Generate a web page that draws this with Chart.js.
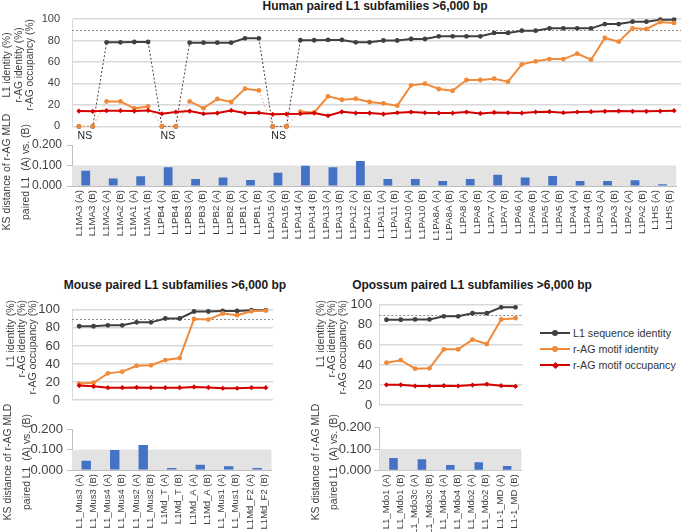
<!DOCTYPE html>
<html><head><meta charset="utf-8">
<script src="https://cdn.jsdelivr.net/npm/chart.js@4/dist/chart.umd.min.js"></script>
<style>
html,body{margin:0;padding:0;background:#fff;}
#wrap{position:relative;width:685px;height:532px;overflow:hidden;font-family:"Liberation Sans",Arial,sans-serif;}
canvas{position:absolute;}
.ttl{position:absolute;font-weight:bold;font-size:12px;line-height:12px;color:#1a1a1a;white-space:nowrap;transform:translateX(-50%);}
#legend{position:absolute;left:540px;top:325px;font-size:10.7px;color:#333;}
.li{position:relative;height:16px;line-height:16px;padding-left:33px;white-space:nowrap;}
.li .ln{position:absolute;left:0;top:7px;width:30px;height:2px;}
.li .mk{position:absolute;left:12px;top:5px;width:6px;height:6px;border-radius:50%;}
.li .mk.dia{border-radius:0;width:5px;height:5px;left:12.5px;top:5.5px;transform:rotate(45deg);}
</style></head><body>
<div id="wrap">
  <div class="ttl" id="tH" style="left:375px;top:0px"></div>
  <div class="ttl" id="tM" style="left:175px;top:279px"></div>
  <div class="ttl" id="tO" style="left:472px;top:279px"></div>
  <canvas id="hLine" width="685" height="145" style="left:0;top:0"></canvas>
  <canvas id="hBar" width="685" height="144" style="left:0;top:96px"></canvas>
  <canvas id="mLine" width="280" height="130" style="left:0;top:290px"></canvas>
  <canvas id="mBar" width="280" height="152" style="left:0;top:380px"></canvas>
  <canvas id="oLine" width="225" height="130" style="left:305px;top:290px"></canvas>
  <canvas id="oBar" width="225" height="152" style="left:305px;top:380px"></canvas>
  <div id="legend"></div>
</div>
<script>
// ---------------- DATA ----------------
const seriesNames = ['L1 sequence identity', 'r-AG motif identity', 'r-AG motif occupancy'];
const panelTitles = ['Human paired L1 subfamilies >6,000 bp', 'Mouse paired L1 subfamilies >6,000 bp', 'Opossum paired L1 subfamilies >6,000 bp'];
const lineYTitle = ['L1 identity (%)', 'r-AG identity (%)', 'r-AG occupancy (%)'];
const barYTitle = ['KS distance of r-AG MLD', 'paired L1  (A) vs. (B)'];
const pairSuffixes = [' (A)', ' (B)'];

// Human
const humanSubfamilies = ['L1MA3','L1MA2','L1MA1','L1PB4','L1PB3','L1PB2','L1PB1','L1PA15','L1PA14','L1PA13','L1PA12','L1PA11','L1PA10','L1PA8A','L1PA8','L1PA7','L1PA6','L1PA5','L1PA4','L1PA3','L1PA2','L1HS'];
const humanNS = ['L1MA3','L1PB4','L1PA15'];
const humanL1Identity = [0,0, 78.3,78.3, 78.6,78.6, 0,0, 78,78, 78,78, 82,82, 0,0, 80.2,80.2, 80.5,80.5, 78.3,78.3, 80,80, 81.4,81.4, 83.9,83.9, 83.9,83.9, 87,87, 89.1,89.1, 91.3,91.3, 91.3,91.3, 95.3,95.3, 97.5,97.5, 99.4,99.4];
const humanRagIdentity = [0,0, 23.3,23.3, 16.8,18.6, 0,0, 23.3,17, 25.5,22.7, 35.1,33.5, 0,0, 13.7,13, 28,24.8, 25.8,22.7, 21.4,19.3, 38.2,39.8, 34.8,33.2, 43.2,43.2, 44.4,41.6, 57.8,60.6, 62.7,62.7, 67.7,62.1, 82.3,78.9, 91.3,90.7, 97.2,96.3];
const humanRagOccupancy = [14.3,14, 14.6,14.6, 14.3,14.9, 11.8,13.4, 14.3,11.8, 12.4,14.9, 12.4,12.7, 11.2,11.5, 11.8,12.4, 9.9,13.6, 12.4,12.4, 11.5,12.7, 13.4,12.7, 12.4,12.4, 13.4,12.1, 13,12.7, 12.4,13.4, 13.7,12.7, 13.4,13.7, 14,14.3, 14,14, 14.3,14.6];
const humanKS = [0.075,0.037,0.047,0.091,0.034,0.041,0.029,0.065,0.099,0.091,0.122,0.034,0.034,0.024,0.034,0.055,0.041,0.049,0.024,0.024,0.028,0.008];

// Mouse
const mouseSubfamilies = ['L1_Mus3','L1_Mus4','L1_Mus2','L1Md_T','L1Md_A','L1_Mus1','L1Md_F2'];
const mouseL1Identity = [81.8,81.8, 82.8,82.8, 86.1,86.1, 90.4,90.4, 98.1,98.1, 98.7,98.7, 99.6,99.6];
const mouseRagIdentity = [18.4,19.3, 29.7,31.6, 38,38.6, 44.4,46.6, 89.8,89.2, 95.9,94.1, 98.4,99.1];
const mouseRagOccupancy = [16.2,15.3, 13.8,13.8, 14.1,13.8, 13.8,13.8, 14.7,14.1, 13.2,13.2, 13.8,13.8];
const mouseKS = [0.046,0.098,0.123,0.010,0.026,0.018,0.010];

// Opossum
const opossumSubfamilies = ['L1_Mdo1','L1_Mdo3c','L1_Mdo4','L1_Mdo2','L1-1_MD'];
const opossumL1Identity = [85.1,85.1, 85.4,85.4, 88.5,88.5, 91.6,91.6, 97.5,97.5];
const opossumRagIdentity = [42.3,44.8, 36.4,36.7, 55.7,55.7, 65.3,60.9, 85.4,86.7];
const opossumRagOccupancy = [20.3,20.3, 19.1,19.1, 19.4,19.1, 20,20.9, 19.4,18.8];
const opossumKS = [0.058,0.052,0.025,0.0375,0.020];

const identityThreshold = 90;
const ksBand = [0, 0.1];
const lineTicks = [0, 100, 20];
const barTicks = [0, 0.2, 0.1];

// ---------------- STYLE ----------------
const FONT = '"Liberation Sans", Arial, sans-serif';
Chart.defaults.font.family = FONT;
const COLORS = ['#404040', '#EF8A3A', '#D40000'];
const DOT_COLORS = ['#404040', '#F4B183', '#D40000'];
const PSTYLE = ['circle', 'circle', 'rectRot'];
const TXT = '#404040';

const pairLabels = s => s.flatMap(n => pairSuffixes.map(x => n + x));

const refLine = {
  id: 'refLine',
  beforeDatasetsDraw(chart, args, o) {
    if (o == null || o.value == null) return;
    const {ctx, chartArea: a, scales: {y}} = chart;
    const yy = Math.round(y.getPixelForValue(o.value)) + 0.5;
    ctx.save(); ctx.strokeStyle = '#8c8c8c'; ctx.lineWidth = 1; ctx.setLineDash([2, 2]);
    ctx.beginPath(); ctx.moveTo(a.left, yy); ctx.lineTo(a.right, yy); ctx.stroke(); ctx.restore();
  }
};
const nsMarks = {
  id: 'nsMarks',
  afterDraw(chart, args, o) {
    if (!o || !o.names) return;
    const {ctx, chartArea: a, scales: {x}} = chart;
    const labels = chart.data.labels;
    ctx.save(); ctx.fillStyle = '#1a1a1a'; ctx.font = o.size + 'px ' + FONT;
    ctx.textAlign = 'center'; ctx.textBaseline = 'middle';
    o.names.forEach(n => {
      const i = labels.indexOf(n + pairSuffixes[0]);
      const xx = (x.getPixelForValue(i) + x.getPixelForValue(i + 1)) / 2;
      ctx.fillText('NS', xx - 1, a.bottom + o.dy);
    });
    ctx.restore();
  }
};
const band = {
  id: 'band',
  beforeDatasetsDraw(chart, args, o) {
    if (!o || o.to == null) return;
    const {ctx, chartArea: a, scales: {y}} = chart;
    const y1 = y.getPixelForValue(o.to), y0 = y.getPixelForValue(o.from);
    ctx.save(); ctx.fillStyle = o.color; ctx.fillRect(a.left, y1, a.right - a.left, y0 - y1); ctx.restore();
  }
};
// rotated multi-line axis title (reads bottom-to-top)
const sideTitle = {
  id: 'sideTitle',
  afterDraw(chart, args, o) {
    if (!o || !o.lines) return;
    const ctx = chart.ctx;
    ctx.save(); ctx.fillStyle = TXT; ctx.font = o.size + 'px ' + FONT; ctx.textBaseline = 'middle';
    ctx.textAlign = o.align === 'end' ? 'right' : 'center';
    o.lines.forEach((t, i) => {
      ctx.save(); ctx.translate(o.x + i * o.dx, o.y); ctx.rotate(-Math.PI / 2); ctx.fillText(t, 0, 0); ctx.restore();
    });
    ctx.restore();
  }
};

function ds(i, data) {
  const zeroSeg = ctx => (ctx.p0.parsed.y === 0 || ctx.p1.parsed.y === 0);
  return {
    label: seriesNames[i], data,
    borderColor: COLORS[i], backgroundColor: COLORS[i], borderWidth: 2,
    pointStyle: PSTYLE[i], pointRadius: i === 2 ? 2.6 : 2.4, pointBorderWidth: 0,
    pointBackgroundColor: COLORS[i], tension: 0, order: [2, 1, 0][i],
    segment: {
      borderDash: ctx => zeroSeg(ctx) ? [2, 2] : undefined,
      borderWidth: ctx => zeroSeg(ctx) ? 1 : undefined,
      borderColor: ctx => zeroSeg(ctx) ? DOT_COLORS[i] : undefined
    }
  };
}

function lineChart(id, subfams, l1, ri, ro, o) {
  return new Chart(document.getElementById(id), {
    type: 'line',
    data: {labels: pairLabels(subfams), datasets: [ds(0, l1), ds(1, ri), ds(2, ro)]},
    options: {
      responsive: false, animation: false, clip: false,
      layout: {padding: {top: o.top, bottom: o.bottom, right: o.right, left: 0}},
      plugins: {legend: {display: false}, tooltip: {enabled: false},
        refLine: {value: identityThreshold}, nsMarks: o.ns ? {names: o.ns, size: 10.5, dy: 10} : {},
        sideTitle: Object.assign({lines: lineYTitle, size: o.tfont}, o.title)},
      scales: {
        x: {type: 'category', offset: true, display: false},
        y: {min: lineTicks[0], max: lineTicks[1],
          ticks: {stepSize: lineTicks[2], font: {size: o.tick}, color: TXT, padding: o.tickPad},
          grid: {color: '#d9d9d9', lineWidth: 1.5, drawTicks: false},
          border: {display: true, color: '#d9d9d9', width: 1},
          afterFit(s) { s.width = o.axisW; }
        }
      }
    },
    plugins: [refLine, nsMarks, sideTitle]
  });
}

function barChart(id, subfams, ks, o) {
  return new Chart(document.getElementById(id), {
    type: 'bar',
    data: {labels: subfams, datasets: [{data: ks, backgroundColor: '#4472C4', xAxisID: 'xPair', barPercentage: o.barPct, categoryPercentage: 1}]},
    options: {
      responsive: false, animation: false,
      layout: {padding: {top: o.top, bottom: 0, right: o.right, left: 0}},
      plugins: {legend: {display: false}, tooltip: {enabled: false},
        band: {from: ksBand[0], to: ksBand[1], color: '#e3e3e3'},
        sideTitle: Object.assign({lines: barYTitle, size: o.tfont}, o.title)},
      scales: {
        x: {type: 'category', labels: pairLabels(subfams), offset: true, position: 'bottom',
          grid: {display: false, drawTicks: false}, border: {display: true, color: '#bfbfbf', width: 1},
          ticks: {autoSkip: false, maxRotation: 90, minRotation: 90, font: {size: o.lab}, color: TXT, padding: 4},
          afterFit(s) { s.height = o.xH; }},
        xPair: {type: 'category', offset: true, display: false, position: 'bottom'},
        y: {min: barTicks[0], max: barTicks[1],
          ticks: {stepSize: barTicks[2], callback: v => Number(v).toFixed(3), font: {size: o.tick}, color: TXT, padding: o.tickPad},
          grid: {drawOnChartArea: false, drawTicks: true, tickLength: 5, color: '#bfbfbf'},
          border: {display: true, color: '#bfbfbf', width: 1},
          afterFit(s) { s.width = o.axisW; }
        }
      }
    },
    plugins: [band, sideTitle]
  });
}

// titles
document.getElementById('tH').textContent = panelTitles[0];
document.getElementById('tM').textContent = panelTitles[1];
document.getElementById('tO').textContent = panelTitles[2];

lineChart('hLine', humanSubfamilies, humanL1Identity, humanRagIdentity, humanRagOccupancy,
  {top: 19, bottom: 18, right: 1, axisW: 72, tick: 11, tickPad: 12, tfont: 10.2, ns: humanNS,
   title: {x: 7.5, dx: 11.5, y: 65, align: 'center'}});
barChart('hBar', humanSubfamilies, humanKS,
  {top: 49, right: 1, axisW: 72, xH: 54, tick: 12, tickPad: 5, tfont: 10.4, lab: 9.7, barPct: 0.32,
   title: {x: 7.5, dx: 19, y: 76, align: 'center'}});

lineChart('mLine', mouseSubfamilies, mouseL1Identity, mouseRagIdentity, mouseRagOccupancy,
  {top: 12.3, bottom: 9, right: 7, axisW: 72, tick: 13, tickPad: 12, tfont: 10.5,
   title: {x: 11.5, dx: 11, y: 10, align: 'end'}});
barChart('mBar', mouseSubfamilies, mouseKS,
  {top: 49.3, right: 7, axisW: 72, xH: 62, tick: 13, tickPad: 4, tfont: 10.4, lab: 9.5, barPct: 0.33,
   title: {x: 8.5, dx: 18.5, y: 82, align: 'center'}});

lineChart('oLine', opossumSubfamilies, opossumL1Identity, opossumRagIdentity, opossumRagOccupancy,
  {top: 13.3, bottom: 9.2, right: 7.3, axisW: 74.3, tick: 13, tickPad: 7, tfont: 10.5,
   title: {x: 16, dx: 11, y: 10, align: 'end'}});
barChart('oBar', opossumSubfamilies, opossumKS,
  {top: 47.7, right: 7.3, axisW: 74.3, xH: 61.7, tick: 13, tickPad: 3, tfont: 10.4, lab: 9.5, barPct: 0.3,
   title: {x: 11, dx: 18.5, y: 82, align: 'center'}});

// legend (HTML)
const lg = document.getElementById('legend');
seriesNames.forEach((n, i) => {
  const row = document.createElement('div'); row.className = 'li';
  const ln = document.createElement('span'); ln.className = 'ln'; ln.style.background = COLORS[i];
  const mk = document.createElement('span'); mk.className = 'mk' + (i === 2 ? ' dia' : ''); mk.style.background = COLORS[i];
  row.appendChild(ln); row.appendChild(mk); row.appendChild(document.createTextNode(n));
  lg.appendChild(row);
});
</script>
</body></html>
